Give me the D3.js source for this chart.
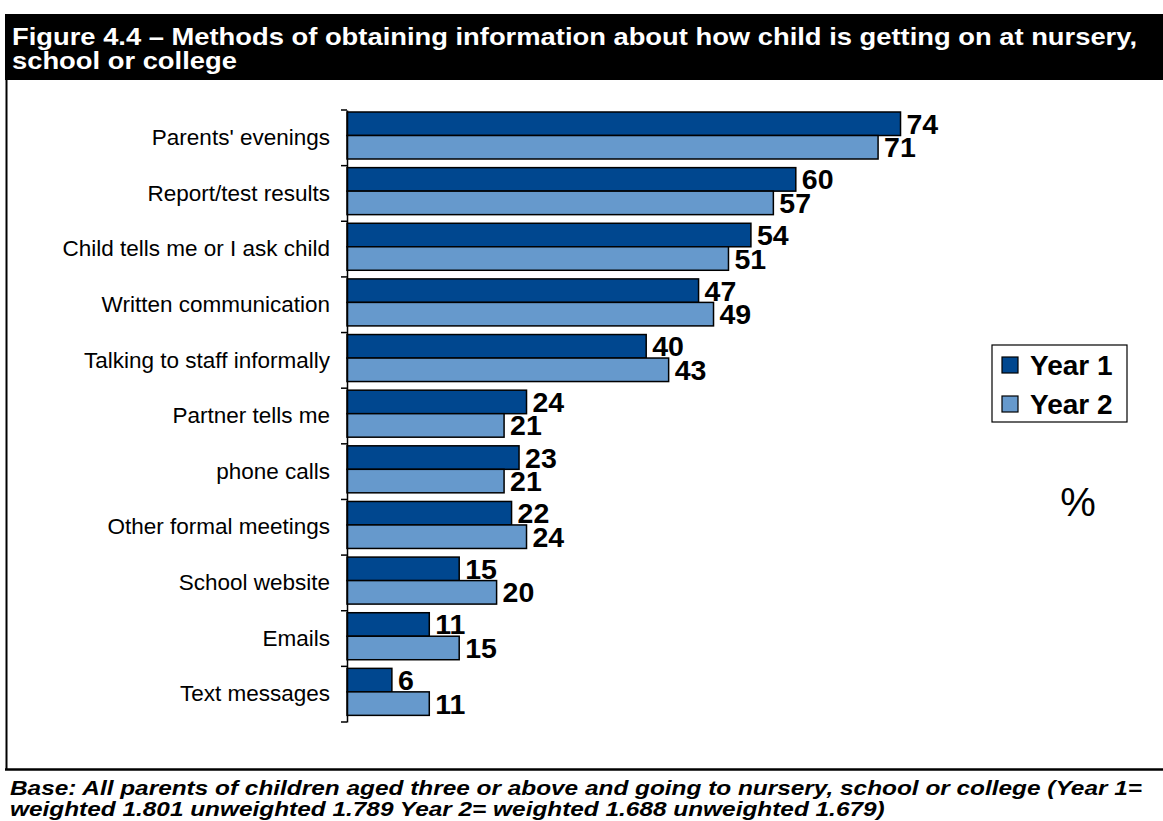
<!DOCTYPE html>
<html><head><meta charset="utf-8">
<script src="https://cdn.jsdelivr.net/npm/d3@7"></script>
<style>body{margin:0;background:#fff}svg{display:block}</style>
</head><body>
<svg id="c" width="1163" height="821"></svg>
<script>
const categories = ["Parents' evenings", "Report/test results", "Child tells me or I ask child", "Written communication", "Talking to staff informally", "Partner tells me", "phone calls", "Other formal meetings", "School website", "Emails", "Text messages"];
const seriesNames = ["Year 1", "Year 2"];
const year1 = [74, 60, 54, 47, 40, 24, 23, 22, 15, 11, 6];
const year2 = [71, 57, 51, 49, 43, 21, 21, 24, 20, 15, 11];
const titleLines = ["Figure 4.4 \u2013 Methods of obtaining information about how child is getting on at nursery,", "school or college"];
const footerLines = ["Base: All parents of children aged three or above and going to nursery, school or college (Year 1=", "weighted 1.801 unweighted 1.789 Year 2= weighted 1.688 unweighted 1.679)"];
const unitLabel = "%";

const colors = ["#00478F", "#6699CC"];
const FONT = "'Liberation Sans', Arial, Helvetica, sans-serif";
const svg = d3.select("#c");
svg.append("rect").attr("width", 1163).attr("height", 821).attr("fill", "#fff");

// helper: stretch a set of lines by the same horizontal factor so the first line has width w
function stretch(sel, w) {
  const nodes = sel.nodes();
  const f = w / nodes[0].getComputedTextLength();
  nodes.forEach(n => {
    n.setAttribute("textLength", n.getComputedTextLength() * f);
    n.setAttribute("lengthAdjust", "spacingAndGlyphs");
  });
}

// Title bar
svg.append("rect").attr("x", 5).attr("y", 14).attr("width", 1158).attr("height", 66).attr("fill", "#000");
const tsel = svg.selectAll("text.title").data(titleLines).join("text")
  .attr("class", "title")
  .attr("x", 12).attr("y", (d, i) => 45 + i * 24)
  .attr("fill", "#fff").attr("font-family", FONT).attr("font-weight", "bold").attr("font-size", 24.5)
  .text(d => d);
stretch(tsel, 1125);

// Frame lines
svg.append("line").attr("x1", 6.5).attr("x2", 6.5).attr("y1", 80).attr("y2", 770).attr("stroke", "#000").attr("stroke-width", 2);
svg.append("line").attr("x1", 5).attr("x2", 1163).attr("y1", 769.5).attr("y2", 769.5).attr("stroke", "#000").attr("stroke-width", 2.7);

// Footer
const fsel = svg.selectAll("text.foot").data(footerLines).join("text")
  .attr("class", "foot")
  .attr("x", 10).attr("y", (d, i) => 795 + i * 21)
  .attr("fill", "#000").attr("font-family", FONT).attr("font-weight", "bold").attr("font-style", "italic").attr("font-size", 19.5)
  .text(d => d);
stretch(fsel, 1132);

// Scales
const x = d3.scaleLinear().domain([0, 100]).range([347, 1095]);
const y = d3.scaleBand().domain(categories).range([110, 722]).padding(0);
const ySub = d3.scaleBand().domain(seriesNames).range([2, 49]).padding(0);

const g = svg.append("g");
const rows = g.selectAll("g.row").data(categories.map((c, i) => ({c, vals: [year1[i], year2[i]]}))).join("g")
  .attr("class", "row").attr("transform", d => `translate(0,${y(d.c)})`);

rows.selectAll("rect").data(d => d.vals.map((v, j) => ({v, s: seriesNames[j], j}))).join("rect")
  .attr("x", x(0)).attr("y", d => ySub(d.s))
  .attr("width", d => x(d.v) - x(0)).attr("height", ySub.bandwidth())
  .attr("fill", d => colors[d.j]).attr("stroke", "#000").attr("stroke-width", 1.5);

rows.selectAll("text.val").data(d => d.vals.map((v, j) => ({v, s: seriesNames[j], j}))).join("text")
  .attr("class", "val")
  .attr("x", d => x(d.v) + 6).attr("y", d => ySub(d.s) + ySub.bandwidth() / 2 + 10)
  .attr("font-family", FONT).attr("font-weight", "bold").attr("font-size", 28.5).attr("fill", "#000")
  .text(d => d.v);

// Axis
const axis = d3.axisLeft(y).tickSize(0).tickPadding(17);
const ax = svg.append("g").attr("transform", `translate(${x(0)},0)`).call(axis);
ax.select(".domain").attr("stroke", "#000").attr("stroke-width", 1.5);
ax.selectAll("text").attr("font-family", FONT).attr("font-size", 22.5).attr("fill", "#000");
// boundary ticks between categories
const bounds = categories.map(c => y(c)).concat([y.range()[1]]);
ax.selectAll("line.bt").data(bounds).join("line").attr("class", "bt")
  .attr("x1", -6).attr("x2", 0).attr("y1", d => d).attr("y2", d => d)
  .attr("stroke", "#000").attr("stroke-width", 1.5);

// Legend
const lg = svg.append("g").attr("transform", "translate(992,345)");
lg.append("rect").attr("width", 135).attr("height", 77).attr("fill", "#fff").attr("stroke", "#000").attr("stroke-width", 1.2);
const li = lg.selectAll("g.li").data(seriesNames).join("g").attr("class", "li")
  .attr("transform", (d, i) => `translate(10,${12 + i * 39})`);
li.append("rect").attr("width", 16).attr("height", 16).attr("fill", (d, i) => colors[i]).attr("stroke", "#000").attr("stroke-width", 1.2);
li.append("text").attr("x", 28).attr("y", 18).attr("font-family", FONT).attr("font-weight", "bold").attr("font-size", 28).text(d => d);

// Unit label
svg.append("text").attr("x", 1078).attr("y", 516).attr("text-anchor", "middle")
  .attr("font-family", FONT).attr("font-size", 40).text(unitLabel);
</script>
</body></html>
